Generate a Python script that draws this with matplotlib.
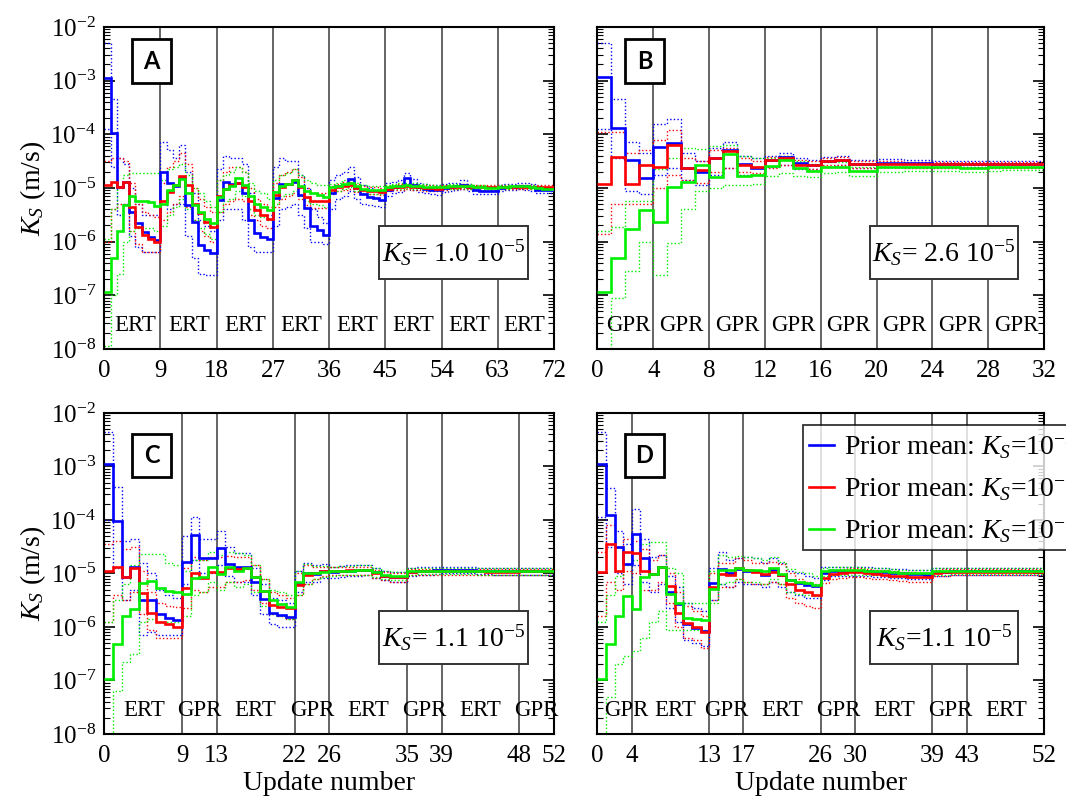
import numpy as np
import matplotlib
matplotlib.use("Agg")
import matplotlib.pyplot as plt
from matplotlib.patches import Rectangle
from matplotlib.lines import Line2D
from matplotlib.ticker import LogLocator, NullFormatter

plt.rcParams['font.family'] = ['Liberation Serif', 'DejaVu Serif']
plt.rcParams['mathtext.fontset'] = 'custom'
plt.rcParams['mathtext.rm'] = 'Liberation Serif'
plt.rcParams['mathtext.it'] = 'Liberation Serif:italic'

# log10(Ks) per update
# ---------------- panel A (ERT only, 72 updates)
a_blue = [-2.95, -3.98, -4.98, -4.88, -5.44, -5.66, -5.82, -5.92, -5.97,
          -4.70, -4.91, -4.96, -4.82, -5.32, -5.63, -6.06, -6.16, -6.21,
          -5.22, -4.88, -4.93, -4.90, -5.10, -5.60, -5.84, -5.92, -5.96,
          -5.19, -4.93, -4.93, -4.88, -5.13, -5.38, -5.71, -5.79, -5.88,
          -5.10, -4.96, -4.94, -4.83, -5.00, -5.12, -5.16, -5.19, -5.22,
          -5.03, -4.99, -4.96, -4.82, -4.94, -4.99, -5.01, -5.03, -5.04,
          -5.00, -4.98, -4.97, -4.94, -4.99, -5.04, -5.05, -5.05, -5.05,
          -5.00, -4.98, -4.98, -4.96, -4.97, -4.99, -5.03, -5.04, -5.04]
a_blue_hi = [-2.30, -3.35, -4.45, -4.55, -5.00, -5.30, -5.50, -5.50, -5.50,
             -4.15, -4.30, -4.45, -4.20, -4.70, -5.10, -5.60, -5.70, -5.80,
             -4.65, -4.40, -4.45, -4.45, -4.55, -5.10, -5.40, -5.50, -5.50,
             -4.60, -4.45, -4.50, -4.50, -4.75, -5.00, -5.40, -5.55, -5.65,
             -4.85, -4.75, -4.70, -4.60, -4.80, -4.95, -5.00, -5.05, -5.10,
             -4.90, -4.88, -4.85, -4.72, -4.84, -4.90, -4.92, -4.94, -4.95,
             -4.93, -4.91, -4.90, -4.86, -4.92, -4.97, -4.98, -4.98, -4.98,
             -4.94, -4.92, -4.92, -4.90, -4.91, -4.93, -4.97, -4.98, -4.98]
a_blue_lo = [-3.90, -4.60, -5.50, -5.30, -5.90, -6.10, -6.20, -6.20, -6.20,
             -5.30, -5.40, -5.30, -5.30, -5.90, -6.30, -6.60, -6.62, -6.62,
             -5.60, -5.40, -5.40, -5.40, -5.60, -6.10, -6.20, -6.20, -6.20,
             -5.70, -5.40, -5.35, -5.30, -5.50, -5.75, -6.00, -6.00, -6.05,
             -5.40, -5.20, -5.15, -5.05, -5.20, -5.30, -5.32, -5.34, -5.35,
             -5.15, -5.10, -5.07, -4.93, -5.04, -5.08, -5.10, -5.12, -5.13,
             -5.07, -5.05, -5.04, -5.02, -5.06, -5.11, -5.12, -5.12, -5.12,
             -5.06, -5.04, -5.04, -5.02, -5.03, -5.05, -5.09, -5.10, -5.10]
a_red = [-4.94, -4.88, -4.99, -4.88, -5.35, -5.72, -5.88, -5.96, -6.00,
         -5.25, -5.07, -4.94, -4.78, -4.94, -5.29, -5.47, -5.63, -5.72,
         -5.15, -5.01, -4.94, -4.91, -4.98, -5.25, -5.41, -5.50, -5.57,
         -5.13, -4.98, -4.92, -4.86, -4.99, -5.16, -5.24, -5.24, -5.24,
         -5.04, -4.99, -4.96, -4.95, -5.00, -5.04, -5.05, -5.05, -5.07,
         -5.01, -4.99, -4.98, -4.97, -4.98, -4.99, -5.00, -5.00, -5.01,
         -4.99, -4.98, -4.98, -4.97, -4.98, -4.99, -4.99, -4.99, -4.99,
         -4.98, -4.98, -4.98, -4.98, -4.98, -4.98, -4.98, -4.98, -4.98]
a_red_hi = [-4.50, -4.45, -4.45, -4.50, -4.90, -5.30, -5.45, -5.50, -5.55,
            -4.90, -4.60, -4.50, -4.35, -4.55, -5.00, -5.20, -5.35, -5.45,
            -4.85, -4.70, -4.60, -4.60, -4.70, -5.00, -5.20, -5.30, -5.35,
            -4.90, -4.75, -4.70, -4.65, -4.80, -5.00, -5.10, -5.10, -5.10,
            -4.96, -4.92, -4.89, -4.88, -4.93, -4.97, -4.98, -4.98, -5.00,
            -4.96, -4.94, -4.93, -4.92, -4.93, -4.94, -4.95, -4.95, -4.96,
            -4.95, -4.94, -4.94, -4.93, -4.94, -4.95, -4.95, -4.95, -4.95,
            -4.95, -4.95, -4.95, -4.95, -4.95, -4.95, -4.95, -4.95, -4.95]
a_red_lo = [-6.00, -5.40, -5.30, -5.30, -5.80, -6.05, -6.20, -6.20, -6.20,
            -5.60, -5.45, -5.30, -5.15, -5.35, -5.60, -5.80, -5.90, -6.00,
            -5.45, -5.30, -5.25, -5.20, -5.25, -5.50, -5.60, -5.70, -5.75,
            -5.35, -5.20, -5.15, -5.10, -5.20, -5.32, -5.38, -5.38, -5.38,
            -5.12, -5.06, -5.03, -5.02, -5.07, -5.11, -5.12, -5.12, -5.14,
            -5.06, -5.04, -5.03, -5.02, -5.03, -5.04, -5.05, -5.05, -5.06,
            -5.03, -5.02, -5.02, -5.01, -5.02, -5.03, -5.03, -5.03, -5.03,
            -5.01, -5.01, -5.01, -5.01, -5.01, -5.01, -5.01, -5.01, -5.01]
a_green = [-6.93, -6.31, -5.81, -5.32, -5.15, -5.25, -5.25, -5.27, -5.33,
           -5.30, -5.04, -4.94, -4.84, -5.10, -5.32, -5.44, -5.57, -5.66,
           -5.17, -5.01, -4.96, -4.82, -4.94, -5.15, -5.29, -5.35, -5.41,
           -5.07, -4.96, -4.93, -4.85, -4.96, -5.05, -5.10, -5.14, -5.16,
           -4.99, -4.97, -4.93, -4.90, -4.97, -5.01, -5.03, -5.04, -5.03,
           -4.99, -4.97, -4.96, -4.95, -4.96, -4.97, -4.98, -4.99, -4.99,
           -4.98, -4.97, -4.97, -4.96, -4.97, -4.99, -4.99, -5.00, -5.00,
           -4.98, -4.98, -4.97, -4.97, -4.97, -4.98, -5.00, -5.01, -5.01]
a_green_hi = [-5.95, -5.40, -5.00, -4.75, -4.72, -4.72, -4.72, -4.72, -4.72,
              -4.85, -4.65, -4.60, -4.55, -4.75, -5.00, -5.10, -5.25, -5.35,
              -4.85, -4.75, -4.70, -4.60, -4.70, -4.90, -5.05, -5.10, -5.20,
              -4.85, -4.75, -4.72, -4.65, -4.75, -4.85, -4.90, -4.95, -4.95,
              -4.92, -4.90, -4.86, -4.83, -4.90, -4.94, -4.96, -4.97, -4.96,
              -4.94, -4.92, -4.91, -4.90, -4.91, -4.92, -4.93, -4.94, -4.94,
              -4.94, -4.93, -4.93, -4.92, -4.93, -4.95, -4.95, -4.96, -4.96,
              -4.95, -4.95, -4.94, -4.94, -4.94, -4.95, -4.97, -4.98, -4.98]
a_green_lo = [-7.95, -7.00, -6.60, -6.00, -5.80, -5.75, -5.75, -5.75, -5.80,
              -5.70, -5.50, -5.35, -5.20, -5.40, -5.60, -5.75, -5.85, -5.95,
              -5.45, -5.25, -5.20, -5.05, -5.15, -5.40, -5.50, -5.55, -5.60,
              -5.30, -5.15, -5.12, -5.05, -5.15, -5.25, -5.30, -5.32, -5.35,
              -5.07, -5.05, -5.01, -4.98, -5.05, -5.09, -5.11, -5.12, -5.11,
              -5.04, -5.02, -5.01, -5.00, -5.01, -5.02, -5.03, -5.04, -5.04,
              -5.02, -5.01, -5.01, -5.00, -5.01, -5.03, -5.03, -5.04, -5.04,
              -5.01, -5.01, -5.00, -5.00, -5.00, -5.01, -5.03, -5.04, -5.04]

# ---------------- panel B (GPR only, 32 updates)
b_blue = [-2.94, -3.89, -4.48, -4.82, -4.24, -4.17, -4.62, -4.70,
          -4.45, -4.30, -4.55, -4.62, -4.48, -4.43, -4.54, -4.57,
          -4.50, -4.48, -4.55, -4.55, -4.53, -4.53, -4.54, -4.54,
          -4.55, -4.55, -4.55, -4.55, -4.55, -4.55, -4.55, -4.55]
b_blue_hi = [-2.30, -3.35, -4.15, -4.35, -3.80, -3.72, -4.35, -4.50,
             -4.25, -4.15, -4.40, -4.45, -4.40, -4.35, -4.45, -4.48,
             -4.42, -4.40, -4.47, -4.47, -4.46, -4.46, -4.48, -4.48,
             -4.49, -4.49, -4.49, -4.49, -4.49, -4.50, -4.50, -4.50]
b_blue_lo = [-3.90, -4.45, -5.05, -5.12, -4.75, -4.62, -4.85, -4.95,
             -4.75, -4.62, -4.75, -4.75, -4.60, -4.58, -4.65, -4.65,
             -4.60, -4.58, -4.62, -4.62, -4.60, -4.60, -4.61, -4.61,
             -4.61, -4.61, -4.61, -4.61, -4.61, -4.61, -4.61, -4.61]
b_red = [-4.93, -4.42, -4.93, -4.57, -4.60, -4.20, -4.63, -4.67,
         -4.45, -4.32, -4.57, -4.60, -4.48, -4.45, -4.57, -4.58,
         -4.49, -4.48, -4.56, -4.56, -4.55, -4.55, -4.56, -4.56,
         -4.56, -4.56, -4.56, -4.56, -4.56, -4.56, -4.56, -4.56]
b_red_hi = [-3.95, -3.95, -4.35, -4.30, -4.10, -3.92, -4.45, -4.50,
            -4.30, -4.25, -4.45, -4.50, -4.42, -4.40, -4.48, -4.50,
            -4.44, -4.43, -4.50, -4.50, -4.50, -4.50, -4.51, -4.51,
            -4.51, -4.51, -4.51, -4.51, -4.51, -4.51, -4.51, -4.51]
b_red_lo = [-5.85, -5.30, -5.30, -5.30, -5.00, -4.75, -4.85, -4.90,
            -4.70, -4.62, -4.70, -4.72, -4.62, -4.58, -4.62, -4.65,
            -4.58, -4.57, -4.62, -4.62, -4.61, -4.61, -4.62, -4.62,
            -4.62, -4.62, -4.62, -4.62, -4.62, -4.62, -4.62, -4.62]
b_green = [-6.93, -6.30, -5.77, -5.41, -5.63, -4.98, -4.88, -4.57,
           -4.79, -4.37, -4.78, -4.76, -4.59, -4.47, -4.63, -4.68,
           -4.60, -4.60, -4.68, -4.68, -4.61, -4.61, -4.61, -4.61,
           -4.61, -4.61, -4.63, -4.63, -4.61, -4.60, -4.60, -4.60]
b_green_hi = [-5.80, -5.72, -5.25, -5.25, -4.65, -4.45, -4.25, -4.28,
              -4.22, -4.20, -4.40, -4.45, -4.45, -4.40, -4.50, -4.55,
              -4.52, -4.52, -4.60, -4.60, -4.55, -4.55, -4.55, -4.55,
              -4.55, -4.55, -4.57, -4.57, -4.55, -4.55, -4.55, -4.55]
b_green_lo = [-8.00, -7.05, -6.55, -6.00, -6.62, -6.03, -5.40, -5.05,
              -5.00, -4.95, -4.95, -4.92, -4.78, -4.72, -4.78, -4.80,
              -4.72, -4.70, -4.78, -4.78, -4.70, -4.70, -4.69, -4.69,
              -4.68, -4.68, -4.70, -4.70, -4.68, -4.67, -4.67, -4.67]

# ---------------- panel C (ERT first, then GPR, 52 updates)
c_blue = [-2.96, -4.01, -5.07, -4.87, -5.49, -5.49, -5.75, -5.83, -5.87,
          -4.79, -4.29, -4.71, -4.71,
          -4.52, -4.82, -4.88, -4.87, -5.16, -5.48, -5.74, -5.77, -5.82,
          -5.18, -4.99, -5.01, -4.95,
          -4.97, -4.96, -4.95, -4.94, -4.93, -4.98, -5.04, -5.06, -5.07,
          -4.97, -4.95, -4.95, -4.94,
          -4.94, -4.94, -4.94, -4.94, -4.95, -4.95, -4.96, -4.96, -4.96,
          -4.96, -4.96, -4.96, -4.96]
c_blue_hi = [-2.35, -3.38, -4.40, -4.35, -4.80, -5.00, -5.30, -5.40, -5.45,
             -4.30, -3.95, -4.35, -4.35,
             -4.20, -4.50, -4.62, -4.62, -4.90, -5.20, -5.45, -5.50, -5.55,
             -4.95, -4.80, -4.85, -4.82,
             -4.87, -4.86, -4.85, -4.84, -4.84, -4.89, -4.95, -4.97, -4.98,
             -4.90, -4.88, -4.88, -4.87,
             -4.88, -4.88, -4.88, -4.88, -4.89, -4.89, -4.90, -4.90, -4.90,
             -4.90, -4.90, -4.90, -4.90]
c_blue_lo = [-4.00, -4.90, -5.50, -5.30, -6.15, -6.10, -6.15, -6.15, -6.15,
             -5.20, -4.75, -5.00, -5.00,
             -4.85, -5.05, -5.15, -5.15, -5.40, -5.75, -5.95, -6.00, -6.00,
             -5.35, -5.15, -5.15, -5.08,
             -5.08, -5.06, -5.05, -5.04, -5.03, -5.08, -5.13, -5.15, -5.16,
             -5.04, -5.02, -5.02, -5.01,
             -5.00, -5.00, -5.00, -5.00, -5.01, -5.01, -5.02, -5.02, -5.02,
             -5.02, -5.02, -5.02, -5.02]
c_red = [-4.95, -4.88, -5.06, -4.90, -5.37, -5.74, -5.91, -5.94, -6.00,
         -5.27, -4.99, -5.08, -4.98,
         -4.98, -4.90, -4.92, -4.90, -5.07, -5.33, -5.58, -5.62, -5.65,
         -5.21, -5.02, -4.99, -4.96,
         -4.95, -4.95, -4.94, -4.94, -4.94, -5.00, -5.05, -5.07, -5.07,
         -4.97, -4.96, -4.96, -4.96,
         -4.96, -4.96, -4.96, -4.96, -4.96, -4.97, -4.97, -4.97, -4.97,
         -4.96, -4.96, -4.96, -4.96]
c_red_hi = [-4.45, -4.40, -4.55, -4.50, -4.95, -5.35, -5.55, -5.60, -5.62,
            -4.90, -4.70, -4.75, -4.70,
            -4.70, -4.68, -4.70, -4.70, -4.85, -5.10, -5.35, -5.40, -5.45,
            -5.00, -4.85, -4.88, -4.87,
            -4.88, -4.88, -4.87, -4.87, -4.87, -4.93, -4.98, -5.00, -5.00,
            -4.92, -4.91, -4.91, -4.91,
            -4.91, -4.91, -4.91, -4.91, -4.91, -4.92, -4.92, -4.92, -4.92,
            -4.91, -4.91, -4.91, -4.91]
c_red_lo = [-5.90, -5.40, -5.50, -5.35, -5.75, -6.05, -6.20, -6.20, -6.20,
            -5.65, -5.30, -5.35, -5.25,
            -5.25, -5.15, -5.15, -5.12, -5.30, -5.55, -5.75, -5.80, -5.85,
            -5.40, -5.20, -5.10, -5.05,
            -5.03, -5.03, -5.02, -5.02, -5.02, -5.08, -5.13, -5.15, -5.15,
            -5.03, -5.02, -5.02, -5.02,
            -5.02, -5.02, -5.02, -5.02, -5.02, -5.03, -5.03, -5.03, -5.03,
            -5.02, -5.02, -5.02, -5.02]
c_green = [-6.97, -6.31, -5.79, -5.66, -5.18, -5.14, -5.27, -5.32, -5.35,
           -5.38, -5.08, -5.07, -4.87,
           -5.01, -4.88, -4.95, -4.90, -5.07, -5.32, -5.49, -5.57, -5.63,
           -5.16, -4.99, -4.99, -4.97,
           -4.96, -4.95, -4.95, -4.94, -4.94, -4.98, -5.03, -5.05, -5.05,
           -4.96, -4.95, -4.95, -4.95,
           -4.95, -4.95, -4.95, -4.95, -4.96, -4.96, -4.96, -4.96, -4.96,
           -4.96, -4.96, -4.96, -4.96]
c_green_hi = [-5.90, -5.50, -5.20, -4.85, -4.63, -4.63, -4.63, -4.80, -4.85,
              -4.95, -4.75, -4.75, -4.60,
              -4.65, -4.60, -4.62, -4.65, -4.85, -5.10, -5.30, -5.35, -5.40,
              -4.95, -4.82, -4.86, -4.86,
              -4.87, -4.86, -4.86, -4.85, -4.85, -4.90, -4.95, -4.97, -4.97,
              -4.90, -4.89, -4.89, -4.89,
              -4.89, -4.89, -4.89, -4.89, -4.90, -4.90, -4.90, -4.90, -4.90,
              -4.90, -4.90, -4.90, -4.90]
c_green_lo = [-8.00, -7.20, -6.65, -6.50, -5.90, -5.85, -5.90, -5.90, -5.90,
              -5.80, -5.40, -5.35, -5.15,
              -5.30, -5.15, -5.25, -5.20, -5.35, -5.60, -5.75, -5.80, -5.85,
              -5.40, -5.20, -5.10, -5.06,
              -5.04, -5.03, -5.03, -5.02, -5.02, -5.06, -5.11, -5.13, -5.13,
              -5.02, -5.01, -5.01, -5.01,
              -5.01, -5.01, -5.01, -5.01, -5.02, -5.02, -5.02, -5.02, -5.02,
              -5.02, -5.02, -5.02, -5.02]

# ---------------- panel D (GPR first, then ERT, 52 updates)
d_blue = [-2.96, -3.90, -4.51, -4.83,
          -4.27, -4.71, -5.01, -4.87, -5.34, -5.57, -5.94, -6.02, -6.07,
          -5.18, -4.91, -4.99, -4.91,
          -4.95, -4.95, -5.02, -4.93, -5.02, -5.13, -5.18, -5.21, -5.23,
          -5.00, -4.96, -4.96, -4.96,
          -4.95, -4.96, -4.97, -4.97, -4.99, -5.00, -5.01, -5.01, -5.02,
          -4.97, -4.97, -4.96, -4.96,
          -4.96, -4.96, -4.96, -4.96, -4.96, -4.96, -4.96, -4.96, -4.96]
d_blue_hi = [-2.35, -3.40, -4.20, -4.45,
             -3.80, -4.35, -4.70, -4.65, -5.05, -5.25, -5.55, -5.65, -5.70,
             -4.90, -4.60, -4.75, -4.72,
             -4.70, -4.72, -4.80, -4.72, -4.80, -4.95, -5.00, -5.05, -5.08,
             -4.88, -4.87, -4.87, -4.87,
             -4.87, -4.88, -4.89, -4.89, -4.91, -4.92, -4.93, -4.93, -4.94,
             -4.90, -4.90, -4.90, -4.90,
             -4.90, -4.90, -4.90, -4.90, -4.90, -4.90, -4.90, -4.90, -4.90]
d_blue_lo = [-3.95, -4.50, -5.00, -5.20,
             -4.85, -5.15, -5.35, -5.20, -5.65, -5.90, -6.25, -6.30, -6.35,
             -5.50, -5.20, -5.25, -5.15,
             -5.20, -5.20, -5.25, -5.15, -5.25, -5.35, -5.40, -5.45, -5.45,
             -5.12, -5.05, -5.05, -5.05,
             -5.04, -5.05, -5.06, -5.06, -5.08, -5.09, -5.10, -5.10, -5.11,
             -5.04, -5.04, -5.03, -5.03,
             -5.03, -5.03, -5.03, -5.03, -5.03, -5.03, -5.03, -5.03, -5.03]
d_red = [-4.98, -4.44, -4.95, -4.59,
         -4.62, -4.95, -5.01, -4.87, -5.24, -5.74, -5.93, -6.00, -6.10,
         -5.26, -5.01, -5.02, -4.90,
         -4.93, -4.98, -5.01, -4.98, -5.02, -5.20, -5.30, -5.35, -5.40,
         -5.08, -5.01, -4.99, -4.98,
         -4.98, -5.00, -5.01, -5.02, -5.04, -5.05, -5.06, -5.07, -5.07,
         -4.99, -4.98, -4.97, -4.97,
         -4.97, -4.97, -4.97, -4.97, -4.97, -4.97, -4.97, -4.97, -4.97]
d_red_hi = [-4.60, -4.10, -4.50, -4.35,
            -4.40, -4.55, -4.75, -4.65, -5.00, -5.35, -5.60, -5.70, -5.80,
            -5.00, -4.80, -4.80, -4.72,
            -4.75, -4.80, -4.80, -4.78, -4.82, -5.00, -5.10, -5.15, -5.20,
            -4.98, -4.93, -4.91, -4.90,
            -4.90, -4.92, -4.93, -4.94, -4.96, -4.97, -4.98, -4.99, -4.99,
            -4.93, -4.92, -4.91, -4.91,
            -4.91, -4.91, -4.91, -4.91, -4.91, -4.91, -4.91, -4.91, -4.91]
d_red_lo = [-5.80, -5.15, -5.30, -4.95,
            -5.00, -5.30, -5.30, -5.15, -5.55, -6.00, -6.20, -6.25, -6.40,
            -5.50, -5.25, -5.25, -5.10,
            -5.15, -5.20, -5.20, -5.15, -5.20, -5.45, -5.55, -5.60, -5.65,
            -5.18, -5.10, -5.08, -5.07,
            -5.07, -5.09, -5.10, -5.11, -5.13, -5.14, -5.15, -5.16, -5.16,
            -5.05, -5.04, -5.03, -5.03,
            -5.03, -5.03, -5.03, -5.03, -5.03, -5.03, -5.03, -5.03, -5.03]
d_green = [-6.97, -6.31, -5.79, -5.43,
           -5.66, -5.07, -5.01, -4.87, -5.39, -5.56, -5.83, -5.85, -5.87,
           -5.29, -4.93, -4.93, -4.90,
           -4.93, -4.94, -4.96, -4.90, -5.01, -5.12, -5.16, -5.18, -5.21,
           -4.96, -4.94, -4.94, -4.94,
           -4.94, -4.95, -4.95, -4.95, -4.98, -4.99, -4.99, -4.99, -4.99,
           -4.96, -4.96, -4.95, -4.95,
           -4.95, -4.95, -4.95, -4.95, -4.95, -4.95, -4.95, -4.95, -4.95]
d_green_hi = [-5.90, -5.40, -5.05, -4.85,
              -4.75, -4.45, -4.42, -4.42, -4.90, -5.00, -5.55, -5.55, -5.55,
              -4.95, -4.65, -4.70, -4.68,
              -4.70, -4.72, -4.75, -4.70, -4.78, -4.92, -4.98, -5.00, -5.05,
              -4.89, -4.88, -4.88, -4.88,
              -4.88, -4.89, -4.89, -4.89, -4.92, -4.93, -4.93, -4.93, -4.93,
              -4.90, -4.90, -4.89, -4.89,
              -4.89, -4.89, -4.89, -4.89, -4.89, -4.89, -4.89, -4.89, -4.89]
d_green_lo = [-8.00, -7.30, -6.70, -6.55,
              -6.45, -6.20, -5.90, -5.70, -6.05, -6.05, -6.05, -6.05, -6.05,
              -5.55, -5.20, -5.15, -5.10,
              -5.15, -5.15, -5.20, -5.10, -5.20, -5.35, -5.38, -5.40, -5.42,
              -5.05, -5.02, -5.02, -5.02,
              -5.02, -5.03, -5.03, -5.03, -5.06, -5.07, -5.07, -5.07, -5.07,
              -5.02, -5.02, -5.01, -5.01,
              -5.01, -5.01, -5.01, -5.01, -5.01, -5.01, -5.01, -5.01, -5.01]

# data-set switches, method labels, annotations
a_switch = [9, 18, 27, 36, 45, 54, 63]
b_switch = [4, 8, 12, 16, 20, 24, 28]
c_switch = [9, 13, 22, 26, 35, 39, 48]
d_switch = [4, 13, 17, 26, 30, 39, 43]
a_methods = ['ERT'] * 8
b_methods = ['GPR'] * 8
c_methods = ['ERT', 'GPR', 'ERT', 'GPR', 'ERT', 'GPR', 'ERT', 'GPR']
d_methods = ['GPR', 'ERT', 'GPR', 'ERT', 'GPR', 'ERT', 'GPR', 'ERT']
a_method_x = [4.9, 13.6, 22.5, 31.5, 40.5, 49.5, 58.5, 67.3]
b_method_x = [2.2, 6, 10, 14, 18, 22, 26, 30]
c_method_x = [4.6, 11, 17.5, 24, 30.5, 37, 43.5, 50]
d_method_x = [3.3, 9.0, 15, 21.5, 28, 34.6, 41.1, 47.6]
true_ks = [r'$K_S$= 1.0 10$^{-5}$', r'$K_S$= 2.6 10$^{-5}$',
           r'$K_S$= 1.1 10$^{-5}$', r'$K_S$=1.1 10$^{-5}$']
letters = ['A', 'B', 'C', 'D']
prior_labels = [r'Prior mean: $K_S$=10$^{-3}$', r'Prior mean: $K_S$=10$^{-5}$',
                r'Prior mean: $K_S$=10$^{-7}$']

colors = ['#0000ff', '#ff0000', '#00ee00']

panels = [
    dict(series=[(a_blue, a_blue_lo, a_blue_hi), (a_red, a_red_lo, a_red_hi), (a_green, a_green_lo, a_green_hi)],
         switch=a_switch, methods=a_methods, mx=a_method_x),
    dict(series=[(b_blue, b_blue_lo, b_blue_hi), (b_red, b_red_lo, b_red_hi), (b_green, b_green_lo, b_green_hi)],
         switch=b_switch, methods=b_methods, mx=b_method_x),
    dict(series=[(c_blue, c_blue_lo, c_blue_hi), (c_red, c_red_lo, c_red_hi), (c_green, c_green_lo, c_green_hi)],
         switch=c_switch, methods=c_methods, mx=c_method_x),
    dict(series=[(d_blue, d_blue_lo, d_blue_hi), (d_red, d_red_lo, d_red_hi), (d_green, d_green_lo, d_green_hi)],
         switch=d_switch, methods=d_methods, mx=d_method_x),
]

fig = plt.figure(figsize=(10.66, 7.96), dpi=100)
rects = [[0.0978, 0.5616, 0.4219, 0.4045], [0.5605, 0.5616, 0.4189, 0.4045],
         [0.0978, 0.0779, 0.4219, 0.4033], [0.5605, 0.0779, 0.4189, 0.4033]]

for i, p in enumerate(panels):
    ax = fig.add_axes(rects[i])
    n = len(p['series'][0][0])
    edges = np.arange(n + 1)
    # spread of the ensemble (dotted), then the mean (solid)
    for (mean, lo, hi), col in zip(p['series'], colors):
        for b in (lo, hi):
            ax.stairs(10 ** np.array(b), edges, baseline=None, color=col,
                      lw=1.0, ls=(0, (1, 1.6)), zorder=2)
    for (mean, lo, hi), col in zip(p['series'], colors):
        ax.stairs(10 ** np.array(mean), edges, baseline=None, color=col, lw=1.9, zorder=3)

    for s in p['switch']:
        ax.axvline(s, color='#3a3a3a', lw=1.1, zorder=1)
    for xm, m in zip(p['mx'], p['methods']):
        ax.text(xm, 0.072, m, transform=ax.get_xaxis_transform(), ha='center', va='center',
                fontsize=16.5, zorder=4)

    ax.set_yscale('log')
    ax.set_ylim(1e-8, 1e-2)
    ax.set_xlim(0, n)
    ax.set_xticks([0] + p['switch'] + [n])
    ax.yaxis.set_major_locator(LogLocator(base=10, numticks=10))
    ax.yaxis.set_minor_locator(LogLocator(base=10, subs=np.arange(2, 10), numticks=10))
    ax.yaxis.set_minor_formatter(NullFormatter())
    ax.tick_params(axis='y', which='both', direction='in', left=True, right=True)
    ax.tick_params(axis='y', which='major', length=8, width=1.2, labelsize=18, pad=6)
    ax.tick_params(axis='y', which='minor', length=4, width=0.8)
    ax.tick_params(axis='x', which='major', length=0, labelsize=18, pad=8)
    for sp in ax.spines.values():
        sp.set_linewidth(1.5)
    if i in (1, 3):
        ax.tick_params(axis='y', labelleft=False)
    else:
        ax.set_ylabel(r'$K_S$ (m/s)', fontsize=20, labelpad=2)
    if i in (2, 3):
        ax.set_xlabel('Update number', fontsize=20, labelpad=3)

    # true value box
    ax.add_patch(Rectangle((0.61, 0.218), 0.332, 0.165, transform=ax.transAxes,
                           fc='white', ec='#333333', lw=1.4, zorder=5))
    ax.text(0.776, 0.30, true_ks[i], transform=ax.transAxes, ha='center', va='center',
            fontsize=20, zorder=6)
    # panel letter
    top = 0.826 if i < 2 else 0.80
    ax.add_patch(Rectangle((0.062, top), 0.086, 0.136, transform=ax.transAxes,
                           fc='white', ec='black', lw=2, zorder=5))
    ax.text(0.105, top + 0.068, letters[i], transform=ax.transAxes, ha='center', va='center',
            fontsize=17, fontweight='bold', family='Lato', zorder=6)

    if i == 3:
        handles = [Line2D([], [], color=c, lw=1.9) for c in colors]
        leg = ax.legend(handles, prior_labels, loc='upper left', bbox_to_anchor=(0.461, 0.963),
                        fontsize=20, frameon=True, fancybox=False, borderpad=0.2,
                        handlelength=0.9, handletextpad=0.35, labelspacing=0.42,
                        borderaxespad=0)
        leg.get_frame().set_edgecolor('black')
        leg.get_frame().set_linewidth(1.3)
        leg.set_zorder(7)

fig.savefig('out.png', dpi=100)
